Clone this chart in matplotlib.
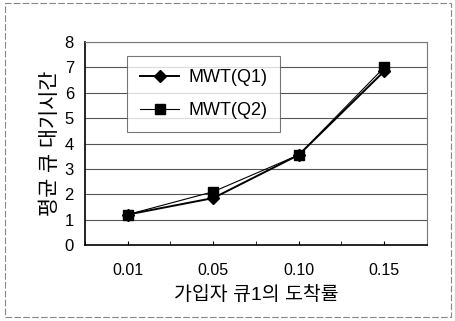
import numpy as np
import matplotlib.pyplot as plt
from matplotlib.patches import Rectangle

plt.rcParams['font.family'] = ['Liberation Sans', 'Noto Sans CJK KR', 'DejaVu Sans']

categories = ['0.01', '0.05', '0.10', '0.15']
mwt_q1 = [1.2, 1.85, 3.55, 6.85]
mwt_q2 = [1.2, 2.1, 3.55, 7.0]
y_ticks = [0, 1, 2, 3, 4, 5, 6, 7, 8]

x = np.arange(len(categories))

fig = plt.figure(figsize=(4.56, 3.21), dpi=100)
ax = fig.add_axes([85 / 456, 1 - 245 / 321, 342 / 456, 203 / 321])

# outer frame of the scanned figure
fig.patches.append(Rectangle((5 / 456, 4 / 321), 446 / 456, 314 / 321, transform=fig.transFigure,
                             fill=False, edgecolor='#888888', linewidth=0.8, linestyle=(0, (6, 2))))

for yv in y_ticks[1:]:
    ax.axhline(yv, color='#555555', linewidth=0.8, zorder=1)

ax.plot(x, mwt_q2, color='black', linewidth=0.8, marker='s', markersize=7, label='MWT(Q2)', zorder=3)
ax.plot(x, mwt_q1, color='black', linewidth=1.4, marker='D', markersize=6, label='MWT(Q1)', zorder=4)

ax.set_xlim(-0.5, 3.5)
ax.set_ylim(0, 8)
ax.set_yticks(y_ticks)
ax.set_xticks(x)
ax.set_xticklabels(categories)
ax.set_xticks(np.arange(-0.5, 4, 1), minor=True)
ax.tick_params(axis='y', length=0, labelsize=12, pad=8)
ax.tick_params(axis='x', which='both', direction='in', length=3, labelsize=11.5, pad=13)

for side in ['top', 'right']:
    ax.spines[side].set_color('#777777')
    ax.spines[side].set_linestyle((0, (2, 1)))
    ax.spines[side].set_linewidth(0.8)
ax.spines['left'].set_linewidth(1.2)
ax.spines['bottom'].set_linewidth(1.2)

ax.set_xlabel('가입자 큐1의 도착률', fontsize=14, labelpad=6)
ax.set_ylabel('평균 큐 대기시간', fontsize=15, labelpad=3)

handles, labels = ax.get_legend_handles_labels()
leg = ax.legend(handles[::-1], labels[::-1], loc='upper left', bbox_to_anchor=(0.123, 0.93),
                borderaxespad=0, fontsize=13, frameon=True, fancybox=False, edgecolor='#555555',
                handlelength=2.2, handletextpad=0.5, borderpad=0.7, labelspacing=0.9)
leg.get_frame().set_linewidth(0.8)

fig.savefig('out.png', dpi=100)
